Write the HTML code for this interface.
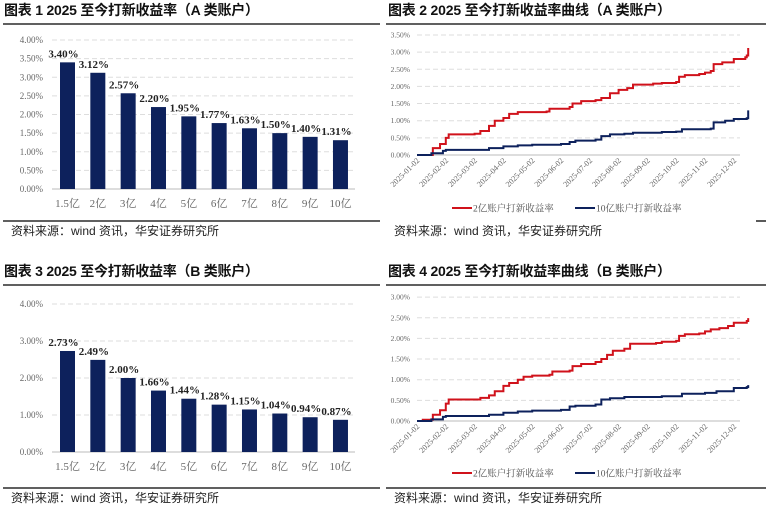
<!DOCTYPE html>
<html><head><meta charset="utf-8"><style>
body{margin:0;width:768px;height:508px;background:#fff;overflow:hidden}
svg{display:block}
</style></head><body>
<svg id="s" width="768" height="508" xmlns="http://www.w3.org/2000/svg" font-family="'Liberation Serif','Noto Serif CJK SC',serif">
<g font-family="'Liberation Sans','Noto Sans CJK SC',sans-serif" font-weight="bold" font-size="14" fill="#111">
<text x="4" y="15" textLength="255">图表 1 2025 至今打新收益率（A 类账户）</text>
<text x="388" y="15" textLength="283">图表 2 2025 至今打新收益率曲线（A 类账户）</text>
<text x="4" y="276" textLength="255">图表 3 2025 至今打新收益率（B 类账户）</text>
<text x="388" y="276" textLength="283">图表 4 2025 至今打新收益率曲线（B 类账户）</text>
</g>
<g stroke="#000" stroke-width="1.3">
<line x1="3" y1="24" x2="380" y2="24"/><line x1="386" y1="24" x2="766" y2="24"/>
<line x1="3" y1="221" x2="380" y2="221"/><line x1="756" y1="221" x2="766" y2="221"/>
<line x1="3" y1="285" x2="380" y2="285"/><line x1="386" y1="285" x2="766" y2="285"/>
<line x1="3" y1="488" x2="380" y2="488"/><line x1="386" y1="488" x2="766" y2="488"/>
</g>
<g font-family="'Liberation Sans','Noto Sans CJK SC',sans-serif" font-size="12" fill="#222">
<text x="11" y="235">资料来源：wind 资讯，华安证券研究所</text>
<text x="394" y="235">资料来源：wind 资讯，华安证券研究所</text>
<text x="11" y="502">资料来源：wind 资讯，华安证券研究所</text>
<text x="394" y="502">资料来源：wind 资讯，华安证券研究所</text>
</g>
<g id="c"></g>
</svg>
<script>
var g=document.getElementById('c'),h='';
function bar(y0,ppu,step,max,vals){
  for(var v=0;v<=max+1e-9;v+=step){var y=y0-v*ppu;
    h+='<line x1="52" x2="355" y1="'+y+'" y2="'+y+'" stroke="'+(v==0?'#bbb':'#ddd')+'" stroke-dasharray="'+(v==0?'':'5,3')+'"/>';
    h+='<text x="43" y="'+(y+3)+'" font-size="9" fill="#666" text-anchor="end">'+v.toFixed(2)+'%</text>';}
  var cats=['1.5亿','2亿','3亿','4亿','5亿','6亿','7亿','8亿','9亿','10亿'];
  for(var i=0;i<10;i++){var cx=67.5+i*30.33,t=y0-vals[i]*ppu;
    h+='<rect x="'+(cx-7.5)+'" y="'+t+'" width="15" height="'+(y0-t)+'" fill="#0d215c"/>';
    h+='<text x="'+(cx-4)+'" y="'+(t-5)+'" font-size="11" font-weight="bold" text-anchor="middle" fill="#222">'+vals[i].toFixed(2)+'%</text>';
    h+='<text x="'+cx+'" y="'+(y0+18)+'" font-size="11" text-anchor="middle" fill="#666">'+cats[i]+'</text>';}
}
bar(189,37.25,0.5,4,[3.40,3.12,2.57,2.20,1.95,1.77,1.63,1.50,1.40,1.31]);
bar(452,37,1,4,[2.73,2.49,2.00,1.66,1.44,1.28,1.15,1.04,0.94,0.87]);
var R=[[0,0],[0.55,0.2],[0.8,0.32],[1.0,0.5],[1.1,0.6],[2.0,0.62],[2.2,0.7],[2.5,0.85],[2.7,1.0],[3.0,1.08],[3.2,1.2],[3.5,1.25],[4.5,1.27],[4.6,1.35],[5.3,1.4],[5.4,1.5],[5.7,1.57],[6.2,1.6],[6.4,1.66],[6.7,1.8],[7.0,1.9],[7.3,1.95],[7.5,2.05],[8.2,2.08],[8.5,2.1],[9.0,2.13],[9.1,2.28],[9.3,2.33],[9.8,2.36],[10.0,2.4],[10.2,2.45],[10.3,2.65],[10.6,2.7],[11.0,2.8],[11.4,2.85],[11.45,2.9],[11.5,3.12]];
var B=[[0,0],[0.5,0.05],[0.9,0.12],[1.0,0.15],[2.0,0.15],[2.5,0.2],[3.0,0.25],[3.5,0.28],[4.0,0.3],[5.0,0.32],[5.3,0.38],[5.5,0.42],[6.2,0.45],[6.4,0.55],[6.7,0.6],[7.2,0.62],[7.5,0.65],[8.5,0.67],[9.0,0.68],[9.2,0.75],[10.2,0.77],[10.3,0.95],[10.7,1.0],[11.0,1.05],[11.45,1.07],[11.5,1.3]];
var R2=[[0,0],[0.2,0.03],[0.55,0.15],[0.8,0.26],[1.0,0.42],[1.1,0.52],[2.0,0.52],[2.2,0.56],[2.5,0.62],[2.7,0.72],[3.0,0.85],[3.2,0.92],[3.5,1.0],[3.7,1.07],[4.0,1.1],[4.6,1.12],[4.7,1.2],[5.3,1.22],[5.4,1.33],[5.7,1.38],[6.2,1.43],[6.4,1.5],[6.6,1.6],[6.8,1.7],[7.2,1.75],[7.4,1.87],[8.3,1.89],[8.5,1.92],[9.0,1.94],[9.1,2.06],[9.3,2.1],[9.8,2.12],[10.0,2.17],[10.2,2.22],[10.5,2.25],[10.8,2.3],[11.0,2.38],[11.45,2.42],[11.5,2.49]];
var B2=[[0,0],[0.5,0.04],[0.9,0.1],[1.0,0.12],[2.0,0.12],[2.5,0.15],[3.0,0.2],[3.5,0.23],[4.0,0.25],[5.0,0.27],[5.3,0.35],[5.5,0.37],[6.2,0.4],[6.4,0.52],[6.7,0.55],[7.2,0.58],[8.5,0.6],[9.0,0.6],[9.2,0.66],[10.0,0.68],[10.4,0.72],[11.0,0.8],[11.45,0.82],[11.5,0.87]];
function line(y0,ppu,step,max,ax,Rd,Bd){
  var x0=417,mw=28.8;
  for(var v=0;v<=max+1e-9;v+=step){var y=y0-v*ppu;
    h+='<line x1="417" x2="740" y1="'+y+'" y2="'+y+'" stroke="'+(v==0?'#bbb':'#ddd')+'" stroke-dasharray="'+(v==0?'':'5,3')+'"/>';
    h+='<text x="410" y="'+(y+2.5)+'" font-size="7.5" fill="#666" text-anchor="end">'+v.toFixed(2)+'%</text>';}
  for(var m=0;m<12;m++){var x=x0+m*mw;var mm=(m+1<10?'0':'')+(m+1);
    h+='<text transform="translate('+(x+3)+','+(y0+6)+') rotate(-45)" font-size="8" fill="#666" text-anchor="end">2025-'+mm+'-02</text>';}
  function p(d,c){var s='',py=null;for(var i=0;i<d.length;i++){var x=x0+d[i][0]*mw,y=y0-d[i][1]*ppu;
    s+=(i?'L'+x+','+py+'L':'M')+x+','+y;py=y;}
    h+='<path d="'+s+'" fill="none" stroke="'+c+'" stroke-width="2"/>';}
  p(Rd,'#d0121b');p(Bd,'#0d215c');
  var ly=ax;
  h+='<line x1="452" x2="472" y1="'+ly+'" y2="'+ly+'" stroke="#d0121b" stroke-width="2"/><text x="473" y="'+(ly+3.5)+'" font-size="9.5" fill="#555">2亿账户打新收益率</text>';
  h+='<line x1="575" x2="595" y1="'+ly+'" y2="'+ly+'" stroke="#0d215c" stroke-width="2"/><text x="596" y="'+(ly+3.5)+'" font-size="9.5" fill="#555">10亿账户打新收益率</text>';
}
line(155,34.3,0.5,3.5,208,R,B);
line(421,41.3,0.5,3,473,R2,B2);
g.innerHTML=h;
</script>
</body></html>
